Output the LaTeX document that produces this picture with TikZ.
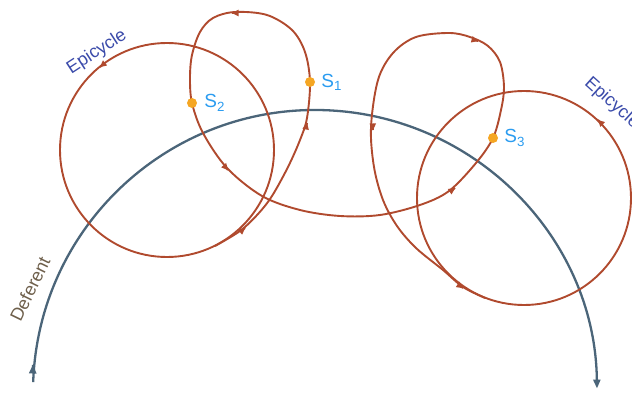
\documentclass[tikz,border=0pt]{standalone}
\usepackage{fontspec}
\setmainfont{Liberation Sans}
\usetikzlibrary{arrows.meta,positioning}
\begin{document}
\begin{tikzpicture}[x=1pt,y=1pt,
  orbit/.style={color0,line width=1.9pt},
  deferent/.style={color1,line width=2.3pt},
  planet/.style={circle,fill=color2,inner sep=0pt,minimum size=10pt},
  slabel/.style={color3,inner sep=0pt,font=\fontsize{19}{19}\selectfont},
  tag/.style={inner sep=0pt,font=\fontsize{18}{18}\selectfont}]
\definecolor{color0}{HTML}{B04A2E}
\definecolor{color1}{HTML}{4B6579}
\definecolor{color2}{HTML}{F5A623}
\definecolor{color3}{HTML}{2B9CF0}
\definecolor{color4}{HTML}{3B4BAA}
\definecolor{color5}{HTML}{6E5F4B}
\useasboundingbox (0,0) rectangle (632,393);
\clip (0,0) rectangle (632,393);
\draw[deferent,-{Triangle[length=9pt,width=7pt]}] (315,1) ++(178:282) arc (178:0.7:282);
\draw[deferent,-{Triangle[length=9pt,width=7pt]}] (33,28) -- ++(88:0.5);
\draw[orbit] (167,243) circle[radius=107];
\draw[orbit] (524,195) circle[radius=107];
\draw[orbit] plot[smooth,tension=0.55] coordinates {(215,147) (240,162) (258,179) (272,197)
  (288,226) (300,253) (307,275) (310,311) (305,341) (292,363) (267,378) (235,381)
  (213,375) (200,361) (192,338) (190,315) (192,290) (203,260) (227,225) (262,197)
  (300,183) (340,177) (380,178) (420,188) (449,202) (476,230) (493,255) (501,283)
  (504,306) (500,331) (488,347) (470,356) (449,360) (416,356) (393,340) (378,313)
  (371,266) (374,226) (383,193) (397,167) (416,145) (443,123) (463,106) (485,95)};
\foreach \px/\py/\ang in {100/326/219, 245/165/40, 307/270/78, 232/380/180, 228/223/-48,
  455/205/35, 478/352/-15, 373/263/-88, 463/105/-34, 598/273/136}
  \draw[orbit,-{Triangle[length=7pt,width=6pt]}] (\px,\py) -- ++(\ang:0.5);
\node[planet] (s1) at (310,311) {};
\node[planet] (s2) at (192,290) {};
\node[planet] (s3) at (493,255) {};
\node[slabel,right=6pt of s1] (l1) {S\textsubscript{1}};
\node[slabel,right=7pt of s2] (l2) {S\textsubscript{2}};
\node[slabel,right=6pt of s3] (l3) {S\textsubscript{3}};
\node[tag,color4,rotate=33] (e1) at (97,341) {Epicycle};
\node[tag,color4,rotate=-42] (e2) at (612,290) {Epicycle};
\node[tag,color5,rotate=64] (d1) at (30,104) {Deferent};
\end{tikzpicture}
\end{document}
